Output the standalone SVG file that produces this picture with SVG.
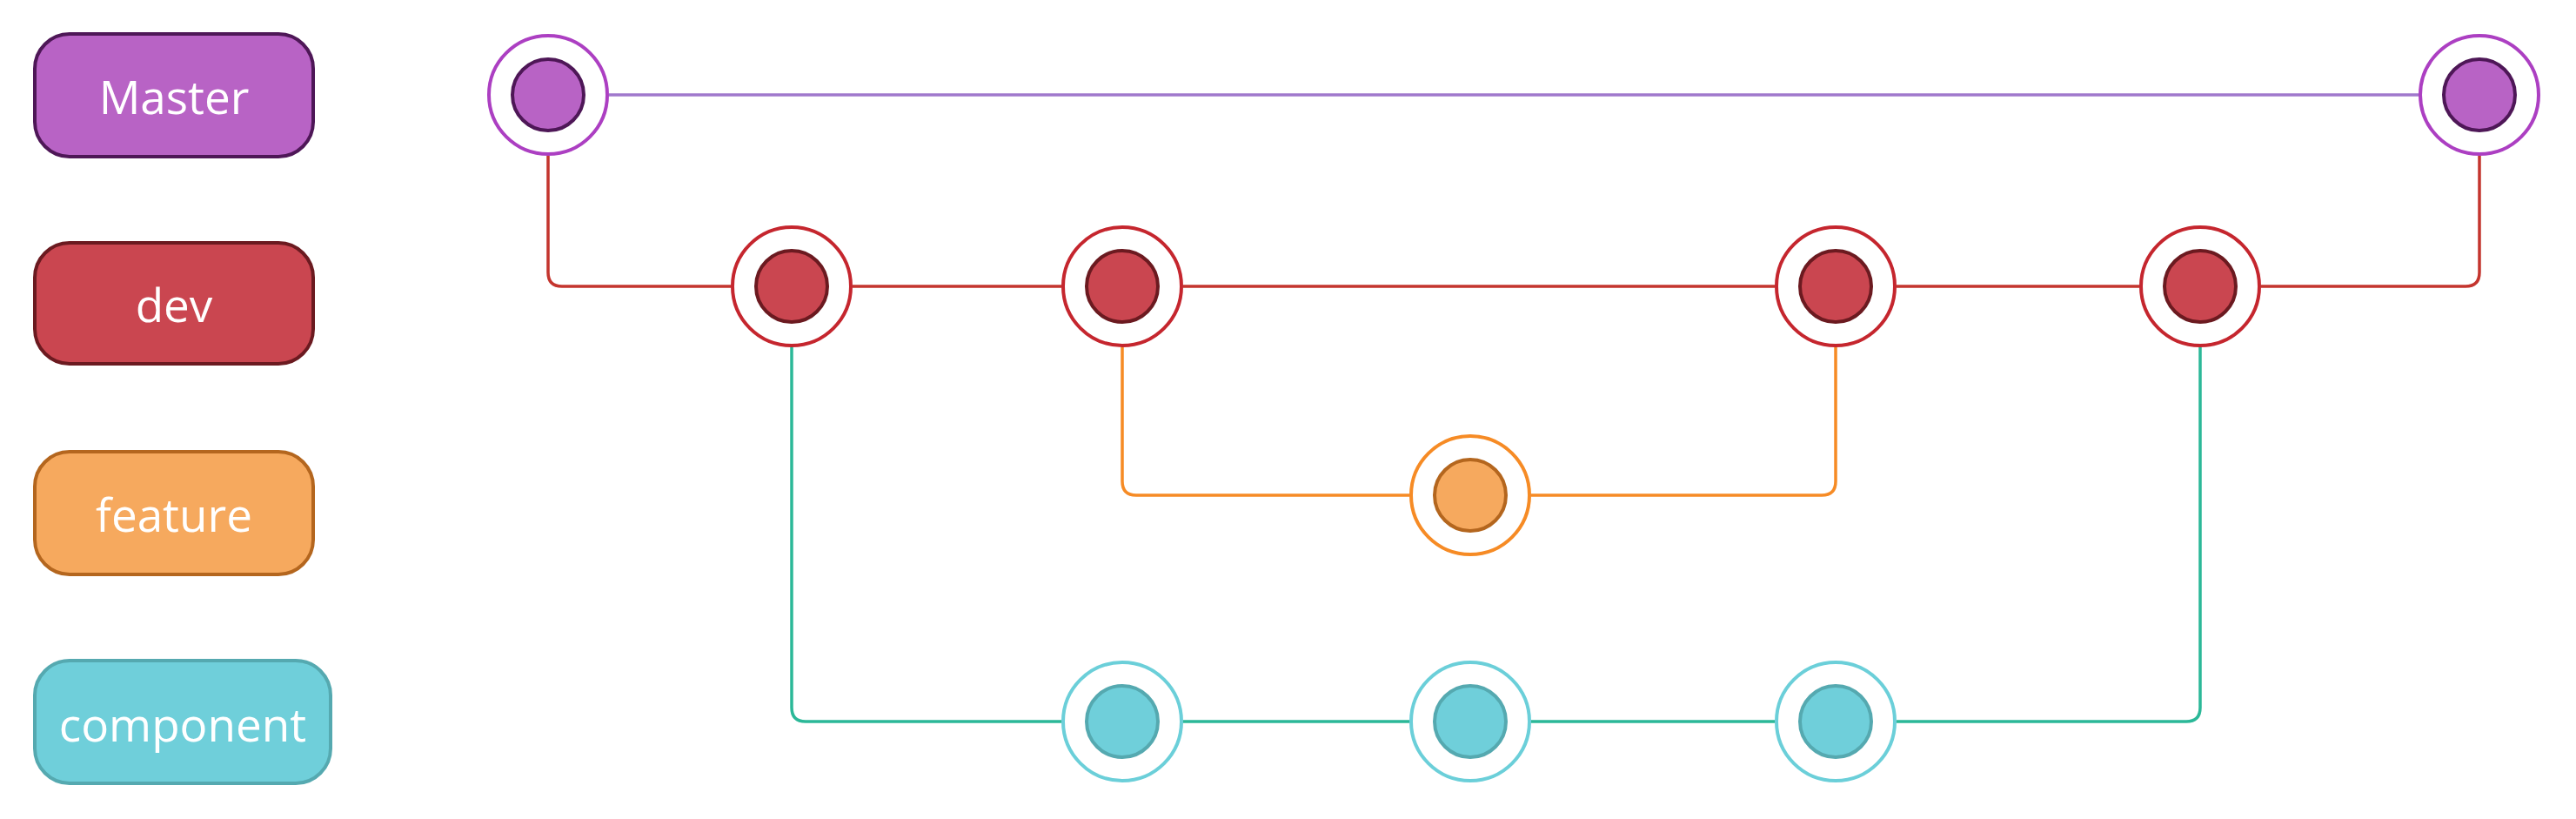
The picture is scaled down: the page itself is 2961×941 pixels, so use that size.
<svg xmlns="http://www.w3.org/2000/svg" width="2961" height="941" viewBox="0 0 2961 941">
<style>
.lbl{font-family:"Open Sans","Noto Sans",sans-serif;font-size:53px;fill:#ffffff;text-anchor:middle}
.box{stroke-width:4}
.ring{fill:#ffffff;stroke-width:4}
.dot{stroke-width:4}
.ln{fill:none;stroke-width:3.5}
.m .ring{stroke:#AC3FC2}.m .dot{fill:#B863C5;stroke:#4E1757}
.d .ring{stroke:#C5262E}.d .dot{fill:#CA4650;stroke:#6B1A20}
.f .ring{stroke:#F68B25}.f .dot{fill:#F6A95E;stroke:#B4661E}
.c .ring{stroke:#6BCFD9}.c .dot{fill:#6FCFDA;stroke:#55A9B0}
</style>
<rect width="2961" height="941" fill="#ffffff"/>
<g id="connectors">
<path class="ln" stroke="#A078CC" d="M700 109 H2780"/>
<path class="ln" stroke="#C4352E" d="M630 179 V313 Q630 329 646 329 H840 M980 329 H1220 M1360 329 H2040 M2180 329 H2459 M2599 329 H2834 Q2850 329 2850 313 V179"/>
<path class="ln" stroke="#F68B25" d="M1290 399 V553 Q1290 569 1306 569 H1620 M1760 569 H2094 Q2110 569 2110 553 V399"/>
<path class="ln" stroke="#2BB898" d="M910 399 V813 Q910 829 926 829 H1220 M1360 829 H1620 M1760 829 H2040 M2180 829 H2513 Q2529 829 2529 813 V399"/>
</g>
<g id="legend-master"><rect class="box" x="40" y="39" width="320" height="141" rx="40" fill="#B863C5" stroke="#4E1757"/><text class="lbl" x="200" y="131">Master</text></g>
<g id="legend-dev"><rect class="box" x="40" y="279" width="320" height="139" rx="40" fill="#CA4650" stroke="#6B1A20"/><text class="lbl" x="200" y="370">dev</text></g>
<g id="legend-feature"><rect class="box" x="40" y="519" width="320" height="141" rx="40" fill="#F6A95E" stroke="#B4661E"/><text class="lbl" x="200" y="611">feature</text></g>
<g id="legend-component"><rect class="box" x="40" y="759" width="340" height="141" rx="40" fill="#6FCFDA" stroke="#55A9B0"/><text class="lbl" x="210" y="852">component</text></g>
<g id="m1" class="m"><circle class="ring" cx="630" cy="109" r="68"/><circle class="dot" cx="630" cy="109" r="41"/></g>
<g id="m2" class="m"><circle class="ring" cx="2850" cy="109" r="68"/><circle class="dot" cx="2850" cy="109" r="41"/></g>
<g id="d1" class="d"><circle class="ring" cx="910" cy="329" r="68"/><circle class="dot" cx="910" cy="329" r="41"/></g>
<g id="d2" class="d"><circle class="ring" cx="1290" cy="329" r="68"/><circle class="dot" cx="1290" cy="329" r="41"/></g>
<g id="d3" class="d"><circle class="ring" cx="2110" cy="329" r="68"/><circle class="dot" cx="2110" cy="329" r="41"/></g>
<g id="d4" class="d"><circle class="ring" cx="2529" cy="329" r="68"/><circle class="dot" cx="2529" cy="329" r="41"/></g>
<g id="f1" class="f"><circle class="ring" cx="1690" cy="569" r="68"/><circle class="dot" cx="1690" cy="569" r="41"/></g>
<g id="c1" class="c"><circle class="ring" cx="1290" cy="829" r="68"/><circle class="dot" cx="1290" cy="829" r="41"/></g>
<g id="c2" class="c"><circle class="ring" cx="1690" cy="829" r="68"/><circle class="dot" cx="1690" cy="829" r="41"/></g>
<g id="c3" class="c"><circle class="ring" cx="2110" cy="829" r="68"/><circle class="dot" cx="2110" cy="829" r="41"/></g>
</svg>
